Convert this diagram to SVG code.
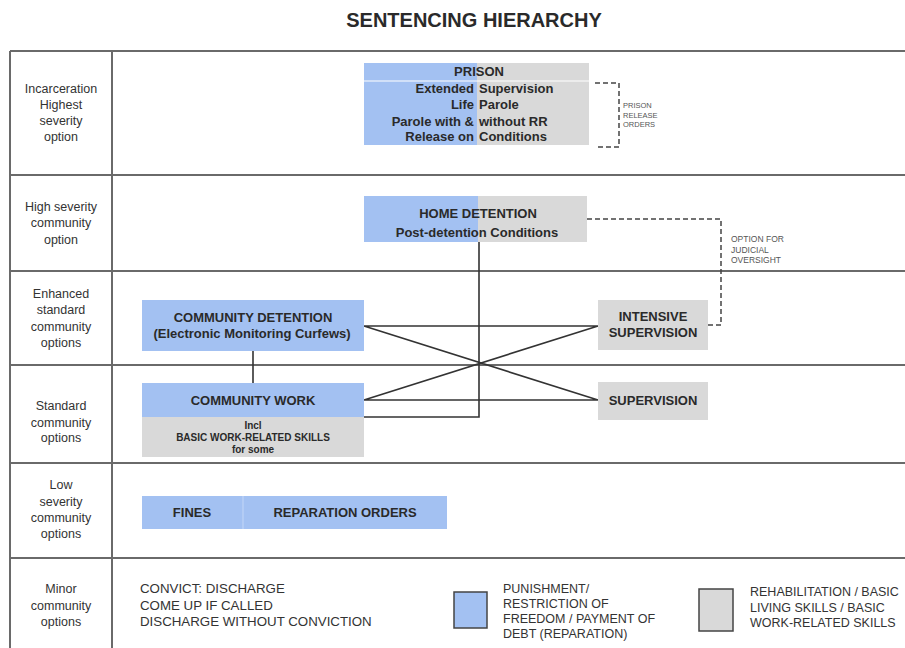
<svg xmlns="http://www.w3.org/2000/svg" width="905" height="648" viewBox="0 0 905 648">
<style>
text{font-family:"Liberation Sans",Arial,sans-serif;fill:#2a2a2a}
.title{font-size:20px;font-weight:bold;text-anchor:middle}
.lab{font-size:12.5px;text-anchor:middle;fill:#333}
.b{font-size:13px;font-weight:bold}
.c{text-anchor:middle}
.s{font-size:10px;font-weight:bold;text-anchor:middle}
.tiny{font-size:7.5px;fill:#555}
.sm{font-size:8.5px;fill:#555}
.leg{font-size:12.5px;fill:#333}
.conv{font-size:13.3px;fill:#333}
.blue{fill:#a3c1f2}
.gray{fill:#d9d9d9}
.grid{stroke:#6a6a6a;stroke-width:2;fill:none}
.con{stroke:#333;stroke-width:1.6;fill:none}
.dash{stroke:#444;stroke-width:1.5;fill:none;stroke-dasharray:5 3}
</style>
<rect width="905" height="648" fill="#fff"/>
<text class="title" x="474" y="27">SENTENCING HIERARCHY</text>

<g id="grid">
<path class="grid" d="M10 51H905M10 175H905M10 271H905M10 365H905M10 463H905M10 558H905M10 51V648M112 51V648"/>
</g>

<g id="row-labels">
<text class="lab" x="61" y="93">Incarceration</text>
<text class="lab" x="61" y="109">Highest</text>
<text class="lab" x="61" y="125">severity</text>
<text class="lab" x="61" y="141">option</text>
<text class="lab" x="61" y="211">High severity</text>
<text class="lab" x="61" y="227">community</text>
<text class="lab" x="61" y="244">option</text>
<text class="lab" x="61" y="298">Enhanced</text>
<text class="lab" x="61" y="314">standard</text>
<text class="lab" x="61" y="331">community</text>
<text class="lab" x="61" y="347">options</text>
<text class="lab" x="61" y="410">Standard</text>
<text class="lab" x="61" y="427">community</text>
<text class="lab" x="61" y="442">options</text>
<text class="lab" x="61" y="489">Low</text>
<text class="lab" x="61" y="506">severity</text>
<text class="lab" x="61" y="522">community</text>
<text class="lab" x="61" y="538">options</text>
<text class="lab" x="61" y="593">Minor</text>
<text class="lab" x="61" y="610">community</text>
<text class="lab" x="61" y="626">options</text>
</g>

<g id="connectors">
<path class="con" d="M479 242V417H364"/>
<path class="con" d="M253 351V383"/>
<path class="con" d="M364 326H598M364 326L598 400M364 400L598 326M364 400H598"/>
<path class="dash" d="M595 83H619V147H595"/>
<path class="dash" d="M587 219H721V325H708"/>
</g>

<g id="prison">
<rect class="blue" x="364" y="63" width="113" height="17.5"/>
<rect class="gray" x="477" y="63" width="112" height="17.5"/>
<rect class="blue" x="364" y="81.5" width="113" height="63.5"/>
<rect class="gray" x="477" y="81.5" width="112" height="63.5"/>
<text class="b c" x="479" y="76">PRISON</text>
<text class="b" x="474" y="93" text-anchor="end">Extended</text>
<text class="b" x="479" y="93">Supervision</text>
<text class="b" x="474" y="109" text-anchor="end">Life</text>
<text class="b" x="479" y="109">Parole</text>
<text class="b" x="474" y="126" text-anchor="end">Parole with &amp;</text>
<text class="b" x="479" y="126">without RR</text>
<text class="b" x="474" y="141" text-anchor="end">Release on</text>
<text class="b" x="479" y="141">Conditions</text>
</g>

<g id="prison-release-orders">
<text class="tiny" x="623" y="108">PRISON</text>
<text class="tiny" x="623" y="118">RELEASE</text>
<text class="tiny" x="623" y="127">ORDERS</text>
</g>

<g id="home-detention">
<rect class="blue" x="364" y="196" width="114" height="46"/>
<rect class="gray" x="478" y="196" width="109" height="46"/>
<text class="b c" x="478" y="218">HOME DETENTION</text>
<text class="b c" x="477" y="237">Post-detention Conditions</text>
</g>

<g id="judicial-oversight">
<text class="sm" x="731" y="242">OPTION FOR</text>
<text class="sm" x="731" y="253">JUDICIAL</text>
<text class="sm" x="731" y="263">OVERSIGHT</text>
</g>

<g id="community-detention">
<rect class="blue" x="142" y="300" width="222" height="51"/>
<text class="b c" x="253" y="322">COMMUNITY DETENTION</text>
<text class="b c" x="252" y="338">(Electronic Monitoring Curfews)</text>
</g>

<g id="intensive-supervision">
<rect class="gray" x="598" y="300" width="110" height="50"/>
<text class="b c" x="653" y="321">INTENSIVE</text>
<text class="b c" x="653" y="337">SUPERVISION</text>
</g>

<g id="community-work">
<rect class="blue" x="142" y="383" width="222" height="34"/>
<rect class="gray" x="142" y="417" width="222" height="40"/>
<text class="b c" x="253" y="405">COMMUNITY WORK</text>
<text class="s" x="253" y="429">Incl</text>
<text class="s" x="253" y="441">BASIC WORK-RELATED SKILLS</text>
<text class="s" x="253" y="453">for some</text>
</g>

<g id="supervision">
<rect class="gray" x="598" y="382" width="110" height="38"/>
<text class="b c" x="653" y="405">SUPERVISION</text>
</g>

<g id="fines">
<rect class="blue" x="142" y="496" width="305" height="33"/>
<line x1="243" y1="496" x2="243" y2="529" stroke="#c4d7f7" stroke-width="1"/>
<text class="b c" x="192" y="517">FINES</text>
<text class="b c" x="345" y="517">REPARATION ORDERS</text>
</g>

<g id="minor-options">
<text class="conv" x="140" y="593">CONVICT: DISCHARGE</text>
<text class="conv" x="140" y="610">COME UP IF CALLED</text>
<text class="conv" x="140" y="626">DISCHARGE WITHOUT CONVICTION</text>
</g>

<g id="legend-punishment">
<rect class="blue" x="454" y="592" width="33" height="36" stroke="#444" stroke-width="1.5"/>
<text class="leg" x="503" y="593">PUNISHMENT/</text>
<text class="leg" x="503" y="608">RESTRICTION OF</text>
<text class="leg" x="503" y="623">FREEDOM / PAYMENT OF</text>
<text class="leg" x="503" y="638">DEBT (REPARATION)</text>
</g>

<g id="legend-rehabilitation">
<rect class="gray" x="699" y="589" width="34" height="42" stroke="#444" stroke-width="1.5"/>
<text class="leg" x="750" y="596">REHABILITATION / BASIC</text>
<text class="leg" x="750" y="612">LIVING SKILLS / BASIC</text>
<text class="leg" x="750" y="627">WORK-RELATED SKILLS</text>
</g>
</svg>
